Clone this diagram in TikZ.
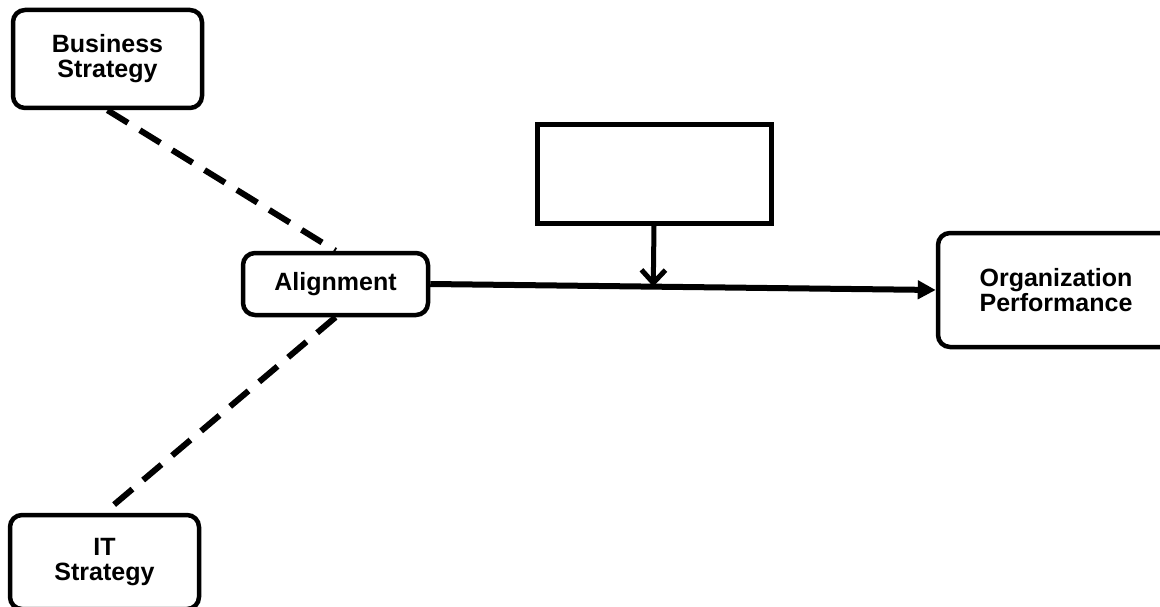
\documentclass[tikz,border=0pt]{standalone}
\usepackage{fontspec}
\setmainfont{Liberation Sans}
\usetikzlibrary{arrows.meta,calc}
\begin{document}
\begin{tikzpicture}[x=1pt,y=-1pt,
  rbox/.style={draw,line width=4.5pt,rounded corners=12pt,align=center,inner sep=0pt,
    font=\fontsize{25}{25}\selectfont\bfseries},
  sbox/.style={draw,line width=5pt,inner sep=0pt},
  dashline/.style={line width=6pt,dash pattern=on 24pt off 14pt},
  mainline/.style={line width=6pt,-{Triangle[length=18pt,width=18pt]}},
  downarrow/.style={line width=5pt,-{Straight Barb[length=13pt,width=24pt,line width=5pt]}}]
\useasboundingbox (0,0) rectangle (1160,607);
\clip (0,0) rectangle (1160,607);
\node[rbox,minimum width=189pt,minimum height=98pt] (bs) at (107.5,59) {Business\\Strategy};
\node[rbox,minimum width=189pt,minimum height=94pt] (it) at (104.5,562) {IT\\Strategy};
\node[rbox,minimum width=185pt,minimum height=62pt] (al) at (335.5,284) {Alignment};
\node[rbox,minimum width=236pt,minimum height=114pt] (op) at (1056,290) {Organization\\Performance};
\node[sbox,minimum width=234pt,minimum height=98pt] (mod) at (654,174) {};
\draw[dashline] (bs.south) -- (al.north);
\draw[dashline] (al.south) -- (it.north);
\draw[mainline] (al.east) -- (op.west);
\coordinate (hit) at ($(al.east)!(mod.south)!(op.west)$);
\draw[downarrow] (mod.south) -- (hit);
\end{tikzpicture}
\end{document}
